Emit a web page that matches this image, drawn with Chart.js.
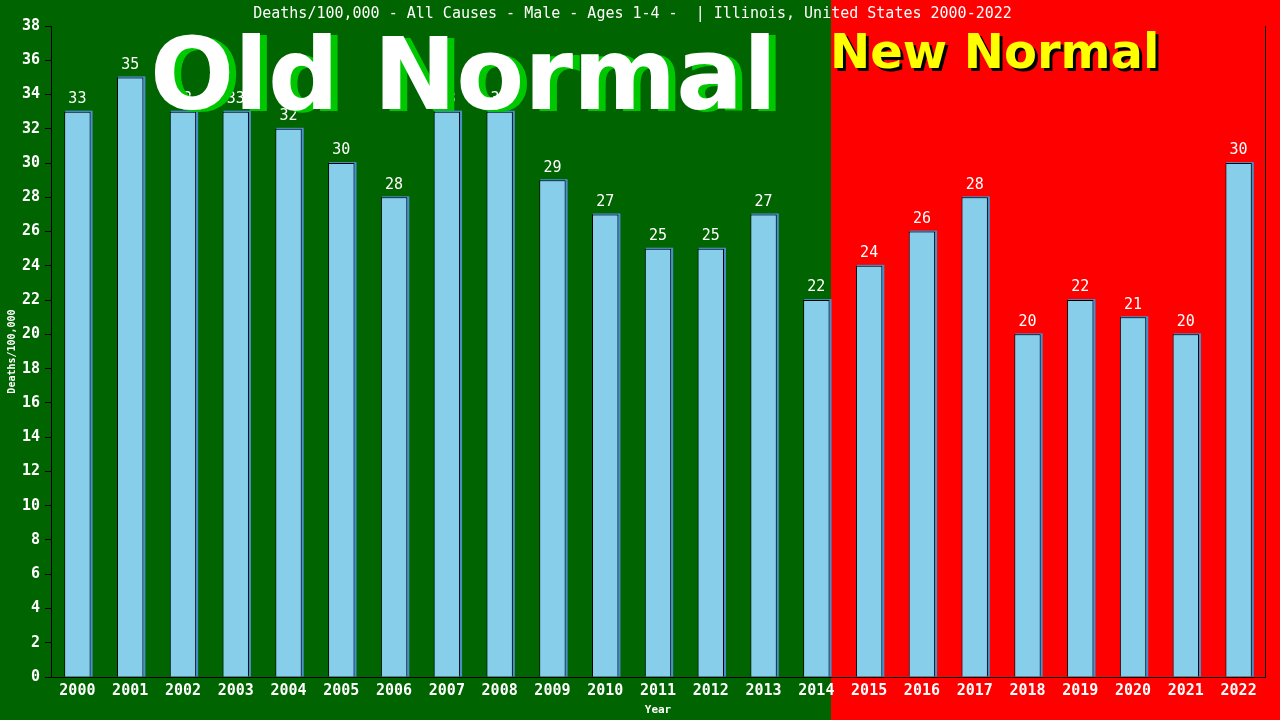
<!DOCTYPE html>
<html>
<head>
<meta charset="utf-8">
<script src="https://cdn.jsdelivr.net/npm/chart.js@4"></script>
<style>
  html, body { margin: 0; padding: 0; background: #006400; }
  #chart { display: block; }
</style>
</head>
<body>
<canvas id="chart" width="1280" height="720"></canvas>
<script>
// data
const years = ['2000', '2001', '2002', '2003', '2004', '2005', '2006', '2007', '2008', '2009', '2010', '2011',
               '2012', '2013', '2014', '2015', '2016', '2017', '2018', '2019', '2020', '2021', '2022'];
const deaths = [33, 35, 33, 33, 32, 30, 28, 33, 33, 29, 27, 25, 25, 27, 22, 24, 26, 28, 20, 22, 21, 20, 30];
const lastOldYear = '2014';
const titleText = 'Deaths/100,000 - All Causes - Male - Ages 1-4 -  | Illinois, United States 2000-2022';

const MONO = '"DejaVu Sans Mono", monospace';

// green / red background split after the last "old normal" bar
const backdrop = {
    id: 'backdrop',
    beforeDraw(chart) {
        const ctx = chart.ctx;
        const bar = chart.getDatasetMeta(0).data[years.indexOf(lastOldYear)];
        const split = Math.round(bar.x + bar.width / 2) + 1;
        ctx.save();
        ctx.fillStyle = '#006400';
        ctx.fillRect(0, 0, split, chart.height);
        ctx.fillStyle = '#ff0000';
        ctx.fillRect(split, 0, chart.width - split, chart.height);
        ctx.restore();
    }
};

// thin blue shadow behind each bar, then the value labels
const barExtras = {
    id: 'barExtras',
    beforeDatasetsDraw(chart) {
        const ctx = chart.ctx;
        ctx.save();
        ctx.fillStyle = '#4a90c8';
        chart.getDatasetMeta(0).data.forEach(bar => {
            const left = bar.x - bar.width / 2;
            ctx.fillRect(left + 1, bar.y - 1, bar.width + 1, bar.base - bar.y + 1);
        });
        ctx.restore();
    },
    afterDatasetsDraw(chart) {
        const ctx = chart.ctx;
        ctx.save();
        ctx.fillStyle = '#ffffff';
        ctx.font = '15px ' + MONO;
        ctx.textAlign = 'center';
        ctx.textBaseline = 'bottom';
        chart.getDatasetMeta(0).data.forEach((bar, i) => {
            ctx.fillText(deaths[i], bar.x, bar.y - 5);
        });
        ctx.restore();
    }
};

// big banner words
const banners = {
    id: 'banners',
    afterDraw(chart) {
        const ctx = chart.ctx;
        ctx.save();
        ctx.textBaseline = 'alphabetic';
        ctx.textAlign = 'left';

        ctx.font = 'bold 99px "DejaVu Sans"';
        ctx.fillStyle = '#00c800';
        ctx.fillText('Old Normal', 157, 111);
        ctx.fillStyle = '#ffffff';
        ctx.fillText('Old Normal', 150, 109);

        ctx.font = 'bold 48px "DejaVu Sans"';
        ctx.fillStyle = '#000000';
        ctx.fillText('New Normal', 833, 71);
        ctx.fillStyle = '#ffff00';
        ctx.fillText('New Normal', 830, 68);
        ctx.restore();
    }
};

new Chart(document.getElementById('chart'), {
    type: 'bar',
    data: {
        labels: years,
        datasets: [{
            data: deaths,
            backgroundColor: '#87ceeb',
            borderColor: '#000000',
            borderWidth: 1,
            barPercentage: 0.5,
            categoryPercentage: 1.0
        }]
    },
    options: {
        responsive: false,
        animation: false,
        devicePixelRatio: 1,
        layout: { padding: { top: 0, right: 15, left: 0, bottom: 0 } },
        plugins: {
            legend: { display: false },
            tooltip: { enabled: false },
            title: {
                display: true,
                text: titleText,
                color: '#ffffff',
                font: { family: MONO, size: 15, weight: 'normal' },
                padding: { top: 5, bottom: 3 }
            }
        },
        scales: {
            x: {
                grid: { display: false, drawTicks: false, tickLength: 0 },
                border: { color: '#000000', width: 1 },
                ticks: {
                    color: '#ffffff',
                    font: { family: MONO, size: 15, weight: 'bold' },
                    maxRotation: 0,
                    autoSkip: false,
                    padding: 5
                },
                title: {
                    display: true,
                    text: 'Year',
                    color: '#ffffff',
                    font: { family: MONO, size: 11, weight: 'bold' },
                    padding: { top: 0, bottom: 3 }
                },
                afterFit(scale) { scale.height = 43; }
            },
            y: {
                min: 0,
                max: 38,
                ticks: {
                    stepSize: 2,
                    color: '#ffffff',
                    font: { family: MONO, size: 15, weight: 'bold' },
                    padding: 5
                },
                grid: {
                    drawOnChartArea: false,
                    color: '#000000',
                    tickLength: 6
                },
                border: { color: '#000000', width: 1 },
                title: {
                    display: true,
                    text: 'Deaths/100,000',
                    color: '#ffffff',
                    font: { family: MONO, size: 10, weight: 'bold' },
                    padding: { top: 6, bottom: 0 }
                },
                afterFit(scale) { scale.width = 51; }
            },
            y2: {
                position: 'right',
                min: 0,
                max: 38,
                ticks: { display: false },
                grid: { display: false, drawTicks: false },
                border: { color: '#000000', width: 1 },
                afterFit(scale) { scale.width = 0; }
            }
        }
    },
    plugins: [backdrop, barExtras, banners]
});
</script>
</body>
</html>
